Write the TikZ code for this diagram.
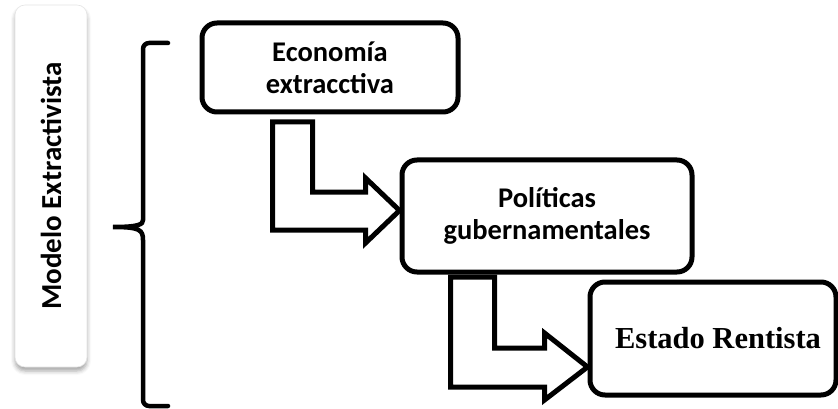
\documentclass[tikz,border=0pt]{standalone}
\usepackage{fontspec}
\setmainfont{Carlito}
\newfontfamily\serifbold{Liberation Serif}
\usetikzlibrary{shadows.blur,calc}
\begin{document}
\begin{tikzpicture}[x=1pt,y=-1pt,
  box/.style={draw=black, line width=5pt, rounded corners=15pt, fill=white,
    align=center, inner sep=0pt, font=\fontsize{28.5}{32}\selectfont\bfseries},
  bentarrow/.style={draw=black, line width=5pt, fill=white, line join=miter},
  bracestyle/.style={draw=black, line width=4.5pt, line cap=round},
  sidebox/.style={draw=black!10, line width=0.6pt, fill=white, rounded corners=10pt,
    blur shadow={shadow xshift=0pt, shadow yshift=-4pt, shadow blur radius=4pt, shadow opacity=35}},
]
\useasboundingbox (0,0) rectangle (838,409);

% side label
\node[sidebox, minimum width=72pt, minimum height=362pt] (lab) at (51,186) {};
\node[rotate=90, font=\fontsize{29}{32}\selectfont\bfseries] (labtext) at (lab.center) {Modelo Extractivista};

% brace
\draw[bracestyle] (168,43) [rounded corners=6pt] -- (143,43) -- (143,214) [sharp corners]
  .. controls (143,224) and (140,227) .. (113,227)
  .. controls (140,227) and (143,230) .. (143,240) [rounded corners=6pt]
  -- (143,406) -- (168,406);

% boxes
\node[box, minimum width=256pt, minimum height=89pt] (b1) at (330,67.5) {Economía\\extracctiva};
\node[box, minimum width=290pt, minimum height=112pt] (b2) at (547,216) {Políticas\\gubernamentales};
\node[box, minimum width=246pt, minimum height=113pt,
  font=\serifbold\fontsize{30.5}{34}\selectfont\bfseries] (b3) at (713,338.5) {\hspace*{10pt}Estado Rentista};

% bent arrows
\draw[bentarrow] ($(b2.west)+(0,-5.5)$) -- ++(-34,32.5) -- ++(0,-13) -- ++(-93,0)
  -- ++(0,-108) -- ++(40,0) -- ++(0,70) -- ++(53,0) -- ++(0,-14) -- cycle;
\draw[bentarrow] ($(b3.west)+(0,28.5)$) -- ++(-43,33) -- ++(0,-13) -- ++(-94,0)
  -- ++(0,-110) -- ++(44,0) -- ++(0,71) -- ++(50,0) -- ++(0,-15) -- cycle;
\end{tikzpicture}
\end{document}
